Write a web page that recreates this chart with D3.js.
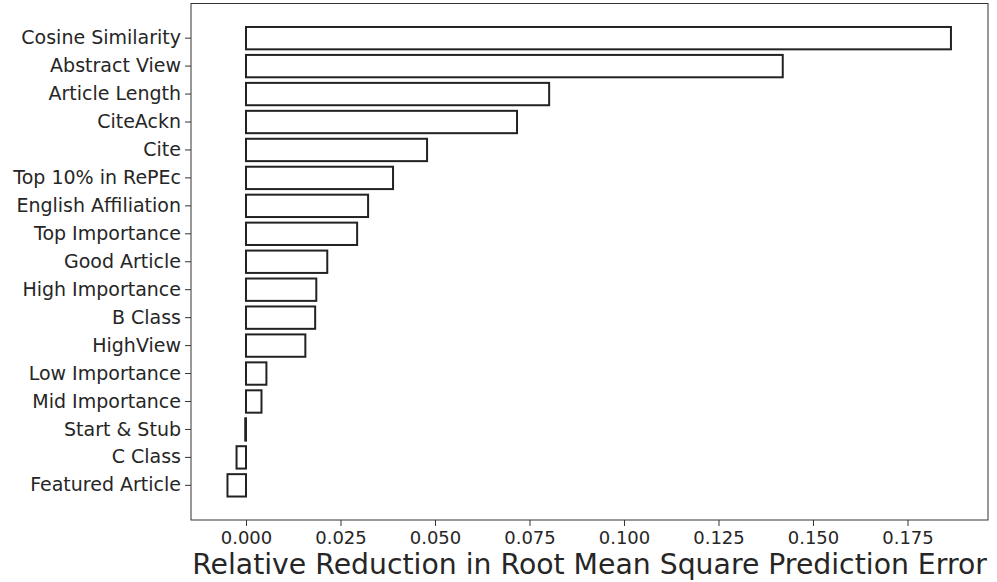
<!DOCTYPE html>
<html>
<head>
<meta charset="utf-8">
<script src="https://cdn.jsdelivr.net/npm/d3@7"></script>
<style>
body{margin:0;background:#fff;}
text{font-family:"DejaVu Sans",sans-serif;fill:#262626;}
</style>
</head>
<body>
<div id="chart"></div>
<script>
var features=["Cosine Similarity","Abstract View","Article Length","CiteAckn","Cite","Top 10% in RePEc","English Affiliation","Top Importance","Good Article","High Importance","B Class","HighView","Low Importance","Mid Importance","Start & Stub","C Class","Featured Article"];
var reduction=[0.1865,0.1420,0.0802,0.0717,0.0479,0.0389,0.0323,0.0294,0.0215,0.0186,0.0183,0.0157,0.0054,0.0041,-0.0002,-0.0025,-0.0049];
var xTicks=[0,0.025,0.05,0.075,0.1,0.125,0.15,0.175];
var xTitle="Relative Reduction in Root Mean Square Prediction Error";

var W=997,H=582;
var plotLeft=191,plotRight=988,plotTop=3.5,plotBottom=520;

var svg=d3.select("#chart")
	.append("svg")
	.attr("width",W)
	.attr("height",H)
	.style("display","block");

var x=d3.scaleLinear()
	.domain([-0.01455,0.1963])
	.range([plotLeft,plotRight]);

var y=d3.scaleBand()
	.domain(features)
	.range([plotTop,plotBottom])
	.paddingInner(0.2)
	.paddingOuter(0.84);

// bars
svg.append("g")
	.selectAll("rect")
	.data(features)
	.enter()
	.append("rect")
	.attr("x",function(d,i){return x(Math.min(0,reduction[i]));})
	.attr("y",function(d){return y(d);})
	.attr("width",function(d,i){return Math.abs(x(reduction[i])-x(0));})
	.attr("height",y.bandwidth())
	.attr("fill","none")
	.attr("stroke","#222")
	.attr("stroke-width",2);

// frame
svg.append("rect")
	.attr("x",plotLeft)
	.attr("y",plotTop)
	.attr("width",plotRight-plotLeft)
	.attr("height",plotBottom-plotTop)
	.attr("fill","none")
	.attr("stroke","#333")
	.attr("stroke-width",1);

var xAxis=svg.append("g")
	.attr("transform","translate(0,"+plotBottom+")")
	.call(d3.axisBottom(x).tickValues(xTicks).tickFormat(d3.format(".3f")).tickSize(6).tickPadding(5));
xAxis.select(".domain").remove();
xAxis.selectAll(".tick line").attr("stroke","#333");
xAxis.selectAll("text").style("font-size","18px").attr("fill","#262626");

var yAxis=svg.append("g")
	.attr("transform","translate("+plotLeft+",0)")
	.call(d3.axisLeft(y).tickSize(6).tickPadding(4));
yAxis.select(".domain").remove();
yAxis.selectAll(".tick line").attr("stroke","#333");
yAxis.selectAll("text").style("font-size","19px").attr("fill","#262626");

svg.append("text")
	.attr("x",(plotLeft+plotRight)/2)
	.attr("y",574)
	.attr("text-anchor","middle")
	.style("font-size","28.3px")
	.text(xTitle);
</script>
</body>
</html>
